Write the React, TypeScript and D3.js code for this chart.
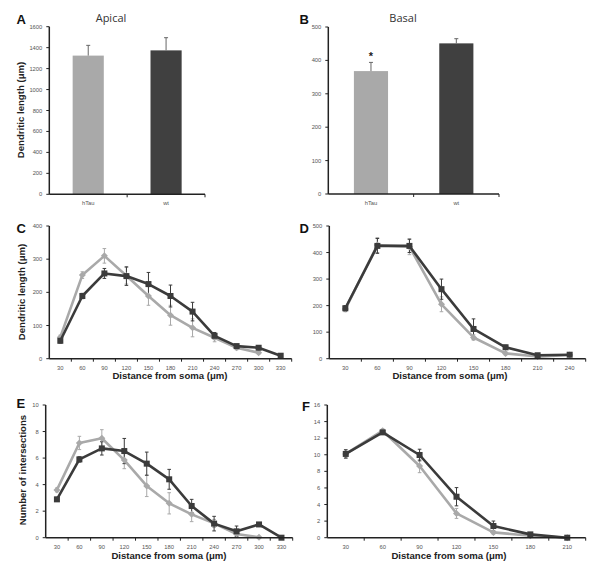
import React from "react";
import * as d3 from "d3";

const groups = ["hTau", "wt"];
const apicalMean = [1324, 1374];
const apicalErr = [98, 121];
const basalMean = [368, 451];
const basalErr = [26, 14];

const distC = [30, 60, 90, 120, 150, 180, 210, 240, 270, 300, 330];
const cTau = [65, 252, 310, 250, 189, 131, 93, 63, 33, 18];
const cTauErr = [6, 10, 22, 25, 28, 30, 27, 12, 6, 4];
const cWt = [54, 189, 257, 249, 225, 189, 142, 69, 38, 33, 9];
const cWtErr = [7, 8, 15, 28, 35, 33, 28, 10, 5, 5, 3];

const distD = [30, 60, 90, 120, 150, 180, 210, 240];
const dTau = [187, 428, 422, 205, 80, 20, 8, 14];
const dTauErr = [10, 28, 30, 28, 10, 6, 3, 3];
const dWt = [190, 425, 425, 262, 112, 43, 13, 15];
const dWtErr = [10, 28, 25, 38, 38, 8, 4, 3];

const distE = [30, 60, 90, 120, 150, 180, 210, 240, 270, 300, 330];
const eTau = [3.6, 7.14, 7.49, 5.85, 3.9, 2.59, 1.76, 1.08, 0.28, 0.03];
const eTauErr = [0.15, 0.5, 0.65, 0.65, 0.8, 0.8, 0.55, 0.3, 0.15, 0.05];
const eWt = [2.89, 5.9, 6.73, 6.53, 5.58, 4.4, 2.39, 1.06, 0.48, 1.0, 0.0];
const eWtErr = [0.15, 0.2, 0.5, 0.95, 0.87, 0.75, 0.5, 0.55, 0.4, 0.1, 0.05];

const distF = [30, 60, 90, 120, 150, 180, 210];
const fTau = [10.1, 12.9, 8.64, 2.93, 0.64, 0.24, 0.0];
const fTauErr = [0.5, 0.2, 0.8, 0.6, 0.2, 0.1, 0.05];
const fWt = [10.1, 12.7, 9.97, 4.94, 1.41, 0.4, 0.0];
const fWtErr = [0.5, 0.2, 0.7, 1.1, 0.6, 0.15, 0.05];

const LIGHT = "#a9a9a9";
const DARK = "#3b3b3b";
const AXIS = "#222";
const FONT = "'Liberation Sans', Arial, sans-serif";

type Box = { x0: number; x1: number; yTop: number; yBot: number };

function YAxis({ box, yMax, step }: { box: Box; yMax: number; step: number }) {
  const y = d3.scaleLinear().domain([0, yMax]).range([box.yBot, box.yTop]);
  const ticks = d3.range(0, yMax + step / 2, step);
  return (
    <g>
      <line x1={box.x0} x2={box.x0} y1={box.yTop} y2={box.yBot} stroke={AXIS} strokeWidth={1.5} />
      {ticks.map((t) => (
        <g key={t}>
          <line x1={box.x0 - 3} x2={box.x0} y1={y(t)} y2={y(t)} stroke={AXIS} strokeWidth={1} />
          <text x={box.x0 - 7} y={y(t)} dy="0.35em" textAnchor="end" fontSize={5.8} fill="#555" fontFamily={FONT}>
            {t}
          </text>
        </g>
      ))}
    </g>
  );
}

function XAxis({ box, cats }: { box: Box; cats: string[] }) {
  const x = d3.scaleBand<string>().domain(cats).range([box.x0, box.x1]).padding(0);
  const bounds = cats.map((c) => (x(c) as number) + x.bandwidth());
  return (
    <g>
      <line x1={box.x0} x2={box.x1} y1={box.yBot} y2={box.yBot} stroke={AXIS} strokeWidth={1.5} />
      {bounds.map((b, i) => (
        <line key={i} x1={b} x2={b} y1={box.yBot} y2={box.yBot + 3} stroke={AXIS} strokeWidth={1} />
      ))}
      {cats.map((c) => (
        <text
          key={c}
          x={(x(c) as number) + x.bandwidth() / 2}
          y={box.yBot + 11}
          textAnchor="middle"
          fontSize={5.8}
          fill="#555"
          fontFamily={FONT}
        >
          {c}
        </text>
      ))}
    </g>
  );
}

function BarPanel({
  box, yMax, step, means, errs, star,
}: { box: Box; yMax: number; step: number; means: number[]; errs: number[]; star?: boolean }) {
  const x = d3.scaleBand<string>().domain(groups).range([box.x0, box.x1]).padding(0);
  const y = d3.scaleLinear().domain([0, yMax]).range([box.yBot, box.yTop]);
  const colors = [LIGHT, "#404040"];
  const bw = x.bandwidth() * 0.4;
  return (
    <g>
      {groups.map((g, i) => {
        const cx = (x(g) as number) + x.bandwidth() / 2;
        const top = y(means[i]);
        const et = y(means[i] + errs[i]);
        return (
          <g key={g}>
            <rect x={cx - bw / 2} y={top} width={bw} height={box.yBot - top} fill={colors[i]} />
            <line x1={cx} x2={cx} y1={top} y2={et} stroke="#666" strokeWidth={1} />
            <line x1={cx - 2} x2={cx + 2} y1={et} y2={et} stroke="#666" strokeWidth={1} />
            {star && i === 0 && (
              <text x={cx} y={et - 2} textAnchor="middle" fontSize={11} fontWeight="bold" fill="#222" fontFamily={FONT}>
                *
              </text>
            )}
          </g>
        );
      })}
      <YAxis box={box} yMax={yMax} step={step} />
      <XAxis box={box} cats={groups} />
    </g>
  );
}

type Series = { vals: number[]; errs: number[]; color: string; marker: "square" | "diamond" };

function LinePanel({
  box, yMax, step, dists, series,
}: { box: Box; yMax: number; step: number; dists: number[]; series: Series[] }) {
  const cats = dists.map(String);
  const x = d3.scaleBand<string>().domain(cats).range([box.x0, box.x1]).padding(0);
  const y = d3.scaleLinear().domain([0, yMax]).range([box.yBot, box.yTop]);
  const cx = (i: number) => (x(cats[i]) as number) + x.bandwidth() / 2;
  const line = d3
    .line<number>()
    .x((_, i) => cx(i))
    .y((v) => y(v));
  return (
    <g>
      {series.map((s, si) => (
        <g key={si}>
          {s.vals.map((v, i) => {
            const a = y(v + s.errs[i]);
            const b = y(Math.max(0, v - s.errs[i]));
            return (
              <g key={i}>
                <line x1={cx(i)} x2={cx(i)} y1={a} y2={b} stroke={s.color} strokeWidth={1} />
                <line x1={cx(i) - 1.8} x2={cx(i) + 1.8} y1={a} y2={a} stroke={s.color} strokeWidth={1} />
                <line x1={cx(i) - 1.8} x2={cx(i) + 1.8} y1={b} y2={b} stroke={s.color} strokeWidth={1} />
              </g>
            );
          })}
        </g>
      ))}
      {series.map((s, si) => (
        <g key={"l" + si}>
          <path d={line(s.vals) || ""} fill="none" stroke={s.color} strokeWidth={2.6} strokeLinejoin="round" />
          {s.vals.map((v, i) =>
            s.marker === "square" ? (
              <rect key={i} x={cx(i) - 3} y={y(v) - 3} width={6} height={6} fill={s.color} />
            ) : (
              <path
                key={i}
                d={`M${cx(i)},${y(v) - 3.5}L${cx(i) + 3.5},${y(v)}L${cx(i)},${y(v) + 3.5}L${cx(i) - 3.5},${y(v)}Z`}
                fill={s.color}
              />
            )
          )}
        </g>
      ))}
      <YAxis box={box} yMax={yMax} step={step} />
      <XAxis box={box} cats={cats} />
    </g>
  );
}

function Letter({ x, y, t }: { x: number; y: number; t: string }) {
  return (
    <text x={x} y={y} fontSize={13} fontWeight="bold" fill="#111" fontFamily={FONT}>
      {t}
    </text>
  );
}

function YLabel({ x, y, t }: { x: number; y: number; t: string }) {
  return (
    <text
      transform={`translate(${x},${y}) rotate(-90)`}
      textAnchor="middle"
      dy="0.35em"
      fontSize={9.6}
      fontWeight="bold"
      fill="#222"
      fontFamily={FONT}
    >
      {t}
    </text>
  );
}

function XLabel({ x, y, t }: { x: number; y: number; t: string }) {
  return (
    <text x={x} y={y} textAnchor="middle" fontSize={9.6} fontWeight="bold" fill="#222" fontFamily={FONT}>
      {t}
    </text>
  );
}

export default function App() {
  const boxA: Box = { x0: 49.3, x1: 205, yTop: 26.7, yBot: 194.3 };
  const boxB: Box = { x0: 328.3, x1: 499, yTop: 27, yBot: 194 };
  const boxC: Box = { x0: 49.3, x1: 291.7, yTop: 226, yBot: 358.7 };
  const boxD: Box = { x0: 329.3, x1: 585.7, yTop: 226, yBot: 358.7 };
  const boxE: Box = { x0: 45.7, x1: 292.7, yTop: 405, yBot: 537.7 };
  const boxF: Box = { x0: 327.3, x1: 585.7, yTop: 405, yBot: 537.7 };
  const xTitle = "Distance from soma (\u03bcm)";
  const yLen = "Dendritic length (\u03bcm)";
  return (
    <div style={{ position: "absolute", left: 0, top: 0 }}>
      <svg width={600} height={570} style={{ display: "block", background: "#fff" }}>
        <BarPanel box={boxA} yMax={1600} step={200} means={apicalMean} errs={apicalErr} />
        <BarPanel box={boxB} yMax={500} step={100} means={basalMean} errs={basalErr} star />
        <LinePanel
          box={boxC}
          yMax={400}
          step={100}
          dists={distC}
          series={[
            { vals: cTau, errs: cTauErr, color: LIGHT, marker: "diamond" },
            { vals: cWt, errs: cWtErr, color: DARK, marker: "square" },
          ]}
        />
        <LinePanel
          box={boxD}
          yMax={500}
          step={100}
          dists={distD}
          series={[
            { vals: dTau, errs: dTauErr, color: LIGHT, marker: "diamond" },
            { vals: dWt, errs: dWtErr, color: DARK, marker: "square" },
          ]}
        />
        <LinePanel
          box={boxE}
          yMax={10}
          step={2}
          dists={distE}
          series={[
            { vals: eTau, errs: eTauErr, color: LIGHT, marker: "diamond" },
            { vals: eWt, errs: eWtErr, color: DARK, marker: "square" },
          ]}
        />
        <LinePanel
          box={boxF}
          yMax={16}
          step={2}
          dists={distF}
          series={[
            { vals: fTau, errs: fTauErr, color: LIGHT, marker: "diamond" },
            { vals: fWt, errs: fWtErr, color: DARK, marker: "square" },
          ]}
        />
        <Letter x={16.5} y={24} t="A" />
        <Letter x={299.5} y={24} t="B" />
        <Letter x={16.5} y={233} t="C" />
        <Letter x={299.5} y={233} t="D" />
        <Letter x={16.5} y={408} t="E" />
        <Letter x={302} y={411} t="F" />
        <text x={111} y={21.5} textAnchor="middle" fontSize={11} fill="#333" fontFamily="'Open Sans', sans-serif">
          Apical
        </text>
        <text x={403} y={21.5} textAnchor="middle" fontSize={11} fill="#333" fontFamily="'Open Sans', sans-serif">
          Basal
        </text>
        <YLabel x={20.5} y={110} t={yLen} />
        <YLabel x={22} y={292} t={yLen} />
        <YLabel x={23} y={470} t="Number of intersections" />
        <XLabel x={170} y={379} t={xTitle} />
        <XLabel x={450} y={379} t={xTitle} />
        <XLabel x={169} y={559} t={xTitle} />
        <XLabel x={449} y={559} t={xTitle} />
      </svg>
    </div>
  );
}
